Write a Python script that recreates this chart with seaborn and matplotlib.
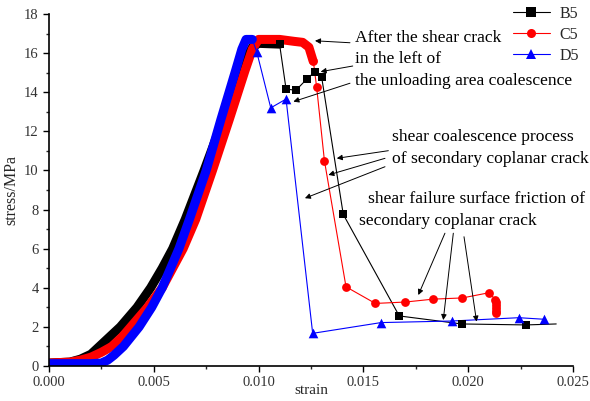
import numpy as np
import pandas as pd
import matplotlib
matplotlib.use("Agg")
import matplotlib.pyplot as plt
from matplotlib.lines import Line2D
import seaborn as sns

# loading branch (dense points, drawn as a thick band)
b5_load_x = [0.0, 0.0010, 0.0015, 0.0020, 0.0024, 0.0034, 0.0042, 0.00485, 0.0054, 0.0059,
             0.0065, 0.0074, 0.0083, 0.0091, 0.0097, 0.0100, 0.0110]
b5_load_y = [0.15, 0.2, 0.35, 0.6, 1.0, 2.0, 3.0, 4.0, 5.0, 6.0,
             7.5, 10.0, 12.6, 15.1, 16.3, 16.5, 16.46]
c5_load_x = [0.0, 0.0010, 0.0015, 0.0020, 0.0025, 0.0030, 0.0035, 0.0039, 0.0047, 0.0054,
             0.0059, 0.0064, 0.0070, 0.0078, 0.0086, 0.00935, 0.0097, 0.0100, 0.0110,
             0.0117, 0.0121, 0.0124, 0.0126]
c5_load_y = [0.15, 0.2, 0.3, 0.45, 0.7, 1.0, 1.5, 2.0, 3.0, 4.0,
             5.0, 6.0, 7.5, 10.0, 12.6, 15.1, 16.2, 16.7, 16.7,
             16.6, 16.55, 16.3, 15.6]
d5_load_x = [0.0, 0.0010, 0.0020, 0.0025, 0.0028, 0.0031, 0.00355, 0.0043, 0.0049, 0.0054,
             0.0058, 0.0062, 0.0067, 0.0075, 0.0082, 0.0089, 0.0092, 0.0094, 0.0097]
d5_load_y = [0.12, 0.12, 0.12, 0.15, 0.3, 0.55, 1.0, 2.0, 3.0, 4.0,
             5.0, 6.0, 7.5, 10.0, 12.6, 15.1, 16.2, 16.7, 16.7]

# post-peak points (markers)
b5_x = [0.0110, 0.01131, 0.01178, 0.01229, 0.01268, 0.01301, 0.01404, 0.01671, 0.01969, 0.02276, 0.0242]
b5_y = [16.46, 14.16, 14.1, 14.66, 15.05, 14.76, 7.75, 2.56, 2.15, 2.1, 2.15]
c5_x = [0.01261, 0.01277, 0.01314, 0.01417, 0.01557, 0.01699, 0.01834, 0.01972, 0.02101,
        0.02130, 0.02132, 0.02133, 0.02133, 0.02132, 0.02131]
c5_y = [15.6, 14.25, 10.5, 4.05, 3.2, 3.27, 3.42, 3.48, 3.75,
        3.38, 3.25, 3.1, 2.95, 2.82, 2.72]
d5_x = [0.00991, 0.01058, 0.01131, 0.01258, 0.01584, 0.01921, 0.02242, 0.02362]
d5_y = [16.07, 13.2, 13.65, 1.67, 2.22, 2.3, 2.47, 2.39]

x_ticks = [0.000, 0.005, 0.010, 0.015, 0.020, 0.025]
y_ticks = [0, 2, 4, 6, 8, 10, 12, 14, 16, 18]

sns.set_theme(style="ticks")
plt.rcParams['font.family'] = ['Liberation Serif', 'DejaVu Serif']

fig = plt.figure(figsize=(5.9, 4.01), dpi=100)
ax = fig.add_axes([49 / 590, 35 / 401, 524 / 590, 352 / 401])

series = [
    ("B5", "black", "s", 34, b5_load_x, b5_load_y, b5_x, b5_y, 1),
    ("C5", "red", "o", 40, c5_load_x, c5_load_y, c5_x, c5_y, 0),
    ("D5", "blue", "^", 48, d5_load_x, d5_load_y, d5_x, d5_y, 0),
]

for name, col, mk, ms, lx, ly, px, py, skip_last in series:
    # thick band of the dense loading record
    sns.lineplot(x=lx, y=ly, ax=ax, color=col, lw=6.5, sort=False,
                 estimator=None, solid_capstyle='round', solid_joinstyle='round')
    # thin post-peak line, starting from the end of the band
    tx = [lx[-1]] + px
    ty = [ly[-1]] + py
    sns.lineplot(x=tx, y=ty, ax=ax, color=col, lw=0.8, sort=False, estimator=None)
    mx = px[:-1] if skip_last else px
    my = py[:-1] if skip_last else py
    sns.scatterplot(x=mx, y=my, ax=ax, color=col, marker=mk, s=ms,
                    edgecolor=col, linewidth=0, zorder=4)

ax.set_xlim(0, 0.025)
ax.set_ylim(0, 18)
ax.set_xticks(x_ticks)
ax.set_xticklabels([f"{v:.3f}" for v in x_ticks])
ax.set_yticks(y_ticks)
ax.set_xticks(np.arange(0.0025, 0.025, 0.005), minor=True)
ax.set_yticks(np.arange(1, 18, 2), minor=True)
ax.tick_params(axis='both', which='major', direction='out', length=4, width=1,
               labelsize=10.5, colors='black', labelcolor='#333333')
ax.tick_params(axis='both', which='minor', direction='out', length=2.5, width=1)
for s in ['top', 'right']:
    ax.spines[s].set_visible(False)
for s in ['left', 'bottom']:
    ax.spines[s].set_color('black')
    ax.spines[s].set_linewidth(1.2)

ax.set_xlabel("strain", fontsize=11, labelpad=-4)
ax.set_ylabel("stress/MPa", fontsize=11.5, labelpad=3)

# annotations
arrow = dict(arrowstyle='-|>', color='black', lw=0.7, mutation_scale=8,
             shrinkA=0, shrinkB=0)
txt = dict(fontsize=12.6, va='center', ha='left', color='black')

ax.text(0.0146, 16.76, "After the shear crack", **txt)
ax.text(0.0146, 15.68, "in the left of", **txt)
ax.text(0.0146, 14.59, "the unloading area coalescence", **txt)
for (x0, y0), (x1, y1) in [((0.01436, 16.53), (0.01269, 16.63)),
                           ((0.01449, 15.34), (0.01296, 15.05)),
                           ((0.01436, 14.46), (0.01166, 13.52))]:
    ax.annotate("", xy=(x1, y1), xytext=(x0, y0), arrowprops=arrow)

ax.text(0.01635, 11.69, "shear coalescence process", **txt)
ax.text(0.01635, 10.57, "of secondary coplanar crack", **txt)
for (x0, y0), (x1, y1) in [((0.01619, 11.01), (0.01373, 10.62)),
                           ((0.01603, 10.62), (0.01333, 9.77)),
                           ((0.01603, 10.19), (0.01221, 8.58))]:
    ax.annotate("", xy=(x1, y1), xytext=(x0, y0), arrowprops=arrow)

ax.text(0.01523, 8.54, "shear failure surface friction of", **txt)
ax.text(0.0148, 7.43, "secondary coplanar crack", **txt)
for (x0, y0), (x1, y1) in [((0.01889, 6.79), (0.01762, 3.63)),
                           ((0.01929, 6.79), (0.01881, 2.35)),
                           ((0.0198, 6.61), (0.0204, 2.27))]:
    ax.annotate("", xy=(x1, y1), xytext=(x0, y0), arrowprops=arrow)

handles = [Line2D([0], [0], color=c, lw=0.8, marker=m, markersize=6.5,
                  markeredgewidth=0)
           for _, c, m, *_ in series]
fig.legend(handles, [s[0] for s in series], loc='upper left',
           bbox_to_anchor=(513 / 590, 1 - 6 / 401), frameon=False,
           fontsize=11.5, handlelength=2.3, handletextpad=0.6,
           labelspacing=0.3, borderpad=0, borderaxespad=0)

fig.savefig("out.png", dpi=100)
